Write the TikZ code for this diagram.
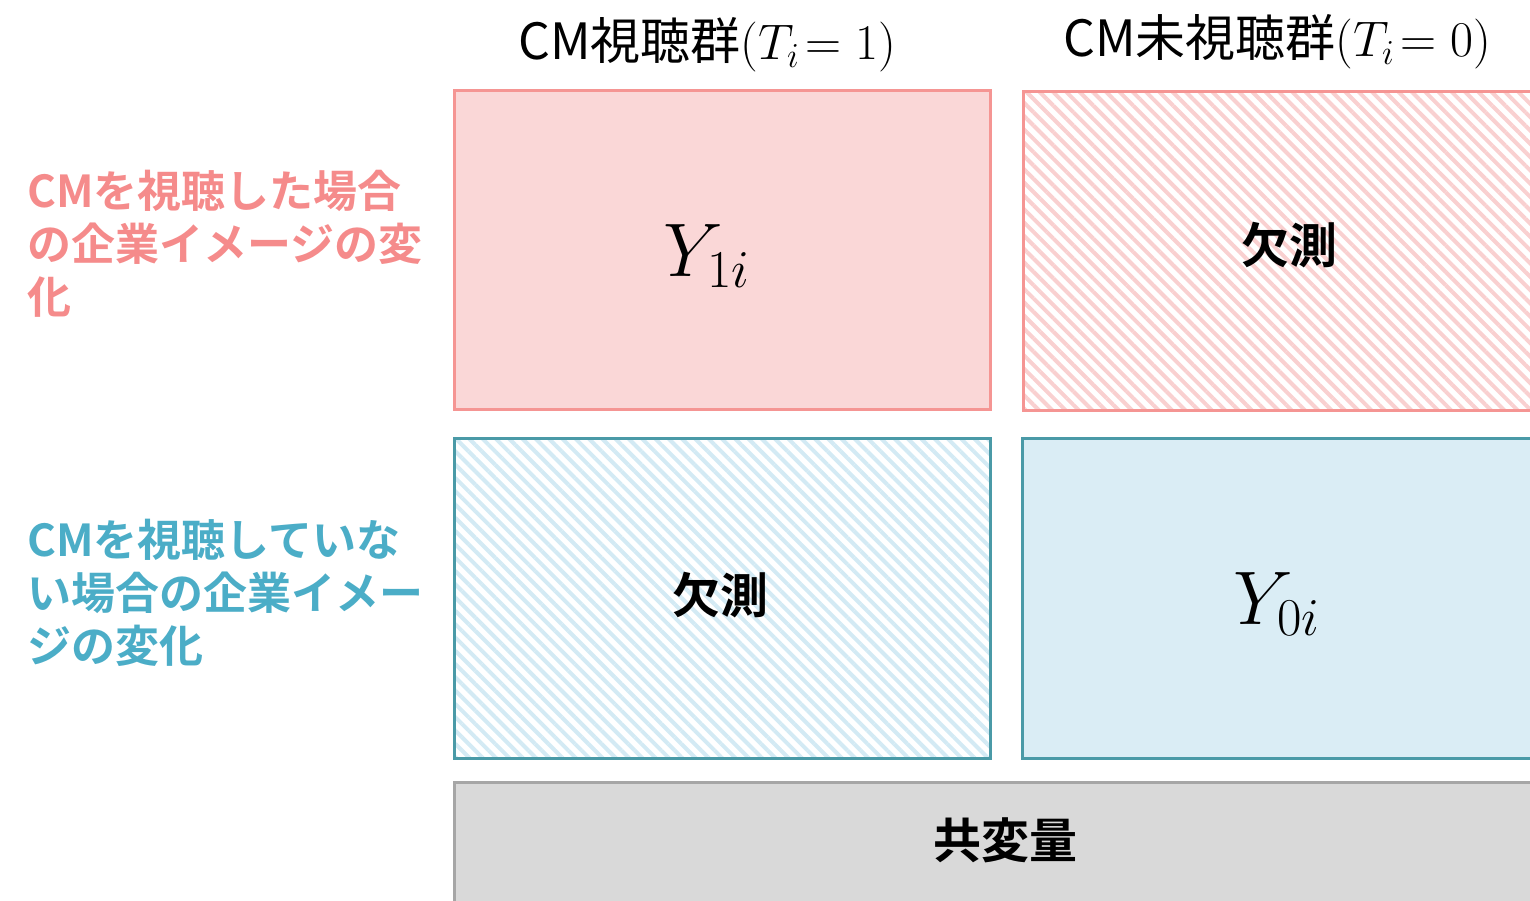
\documentclass[tikz,border=0pt]{standalone}
\usepackage{fix-cm}
\usepackage{fontspec}
\newfontfamily\jp{Noto Sans CJK JP}[BoldFont={Noto Sans CJK JP Bold}]
\usetikzlibrary{patterns.meta}
\definecolor{pinkline}{HTML}{F59593}
\definecolor{pinkfill}{HTML}{FAD7D7}
\definecolor{pinkhatchc}{HTML}{F9D0D0}
\definecolor{pinktext}{HTML}{F58B8B}
\definecolor{tealline}{HTML}{4A9AA7}
\definecolor{bluefill}{HTML}{DAEDF5}
\definecolor{bluehatchc}{HTML}{D3EAF4}
\definecolor{bluetext}{HTML}{4BADC7}
\definecolor{grayline}{HTML}{A6A6A6}
\definecolor{grayfill}{HTML}{D9D9D9}
\tikzset{
  cell/.style={draw, line width=1.5pt, inner sep=0pt, anchor=north west},
  pinksolid/.style={cell, draw=pinkline, fill=pinkfill},
  pinkhatch/.style={cell, draw=pinkline, pattern={Lines[angle=-45,distance=4.7pt,line width=2pt]}, pattern color=pinkhatchc},
  bluehatch/.style={cell, draw=tealline, pattern={Lines[angle=-45,distance=4.7pt,line width=2pt]}, pattern color=bluehatchc},
  bluesolid/.style={cell, draw=tealline, fill=bluefill},
  graybox/.style={cell, draw=grayline, fill=grayfill},
  header/.style={font=\fontsize{25}{30}\selectfont\jp, inner sep=0pt},
  bigmath/.style={font=\fontsize{38}{44}\selectfont, inner sep=0pt},
  missing/.style={font=\fontsize{24}{28}\selectfont\jp\bfseries, inner sep=0pt},
  rowlabel/.style={font=\fontsize{22}{26.5}\selectfont\jp\bfseries, inner sep=0pt, anchor=north west, align=left}
}
\begin{document}
\begin{tikzpicture}[x=0.5pt, y=-0.5pt]
\useasboundingbox (0,0) rectangle (1530,900);
\clip (0,0) rectangle (1530,900);
% cells
\node[pinksolid, minimum width=268pt, minimum height=159.5pt] (tl) at (453,89) {};
\node[pinkhatch, minimum width=262pt, minimum height=159.5pt] (tr) at (1021,89) {};
\node[bluehatch, minimum width=268pt, minimum height=160pt] (bl) at (453,437) {};
\node[bluesolid, minimum width=262pt, minimum height=160pt] (br) at (1021,437) {};
\node[graybox, minimum width=546pt, minimum height=67pt] (cov) at (453,781) {};
% headers
\node[header] (h1) at (707,45) {CM視聴群$(T_i\!= 1)$};
\node[header] (h2) at (1277,42) {CM未視聴群$(T_i\!= 0)$};
% cell texts
\node[bigmath] (y1) at (707,256) {$Y_{1i}$};
\node[missing] (m1) at (1289,245) {欠測};
\node[missing] (m2) at (720,595) {欠測};
\node[bigmath] (y0) at (1277,604) {$Y_{0i}$};
\node[missing] (cv) at (1005,840) {共変量};
% row labels
\node[rowlabel, text=pinktext] (r1) at (27,170) {CMを視聴した場合\\の企業イメージの変\\化};
\node[rowlabel, text=bluetext] (r2) at (27,519) {CMを視聴していな\\い場合の企業イメー\\ジの変化};
\end{tikzpicture}
\end{document}
